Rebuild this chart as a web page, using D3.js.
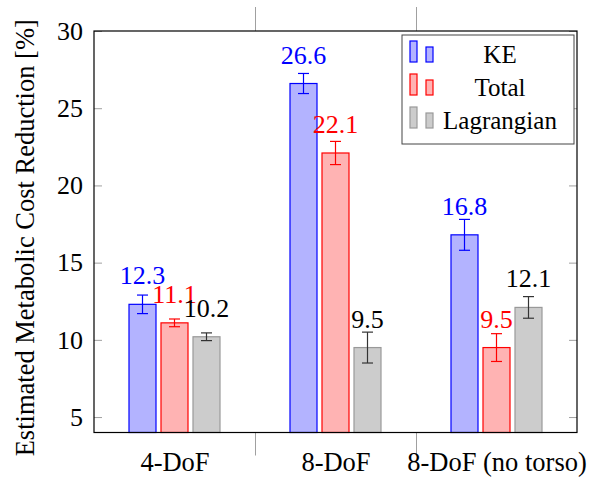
<!DOCTYPE html>
<html>
<head>
<meta charset="utf-8">
<script src="https://cdn.jsdelivr.net/npm/d3@7"></script>
<style>
  body { margin: 0; background: #fff; }
  svg { display: block; font-family: "Liberation Serif", "Times New Roman", serif; }
</style>
</head>
<body>
<div id="chart"></div>
<script>
// data
const groups = ["4-DoF", "8-DoF", "8-DoF (no torso)"];
const series = ["KE", "Total", "Lagrangian"];
const keValues = [12.3, 26.6, 16.8];
const keErrors = [0.6, 0.65, 1.0];
const totalValues = [11.1, 22.1, 9.5];
const totalErrors = [0.25, 0.75, 0.9];
const lagValues = [10.2, 9.5, 12.1];
const lagErrors = [0.25, 1.0, 0.7];
const yTicks = [5, 10, 15, 20, 25, 30];

const styles = [
  { fill: "#b3b3ff", stroke: "#0000ff", err: "#0000ff", label: "#0000ff" },
  { fill: "#ffb3b3", stroke: "#ff0000", err: "#ff0000", label: "#ff0000" },
  { fill: "#cccccc", stroke: "#999999", err: "#333333", label: "#000000" }
];

const values = [keValues, totalValues, lagValues];
const errors = [keErrors, totalErrors, lagErrors];

const width = 592, height = 479;
const plotL = 94, plotR = 577, plotT = 31, plotB = 432.5;
const font = "Liberation Serif";

const svg = d3.select("#chart").append("svg")
  .attr("width", width)
  .attr("height", height);

const x = d3.scaleLinear().domain([-0.5, 2.5]).range([plotL, plotR]);
const y = d3.scaleLinear().domain([4, 30]).range([plotB, plotT]);
const inner = d3.scaleBand().domain(series).range([-48, 48]);
const barW = 27;

// y axis (left), ticks pointing inward
const yAxis = svg.append("g")
  .attr("transform", "translate(" + plotL + ",0)")
  .call(d3.axisLeft(y).tickValues(yTicks).tickSizeInner(-8).tickSizeOuter(0).tickPadding(11));
yAxis.select(".domain").remove();
yAxis.selectAll("line").attr("stroke", "#a0a0a0");
yAxis.selectAll("text").attr("font-size", 26).attr("fill", "#000").attr("font-family", font);

const yAxisR = svg.append("g")
  .attr("transform", "translate(" + plotR + ",0)")
  .call(d3.axisRight(y).tickValues(yTicks).tickSizeInner(-8).tickSizeOuter(0).tickFormat(""));
yAxisR.select(".domain").remove();
yAxisR.selectAll("line").attr("stroke", "#a0a0a0");

// group separators (outside ticks)
const xSep = svg.append("g")
  .attr("transform", "translate(0," + plotB + ")")
  .call(d3.axisBottom(x).tickValues([0.5, 1.5]).tickSizeInner(23).tickSizeOuter(0).tickFormat(""));
xSep.select(".domain").remove();
xSep.selectAll("line").attr("stroke", "#a0a0a0");

const xSepTop = svg.append("g")
  .attr("transform", "translate(0," + plotT + ")")
  .call(d3.axisTop(x).tickValues([0.5, 1.5]).tickSizeInner(24).tickSizeOuter(0).tickFormat(""));
xSepTop.select(".domain").remove();
xSepTop.selectAll("line").attr("stroke", "#a0a0a0");

// category labels
const xLab = svg.append("g")
  .attr("transform", "translate(0," + plotB + ")")
  .call(d3.axisBottom(x).tickValues([0, 1, 2]).tickSize(0).tickPadding(20).tickFormat(i => groups[i]));
xLab.select(".domain").remove();
xLab.selectAll("text").attr("font-size", 26.5).attr("fill", "#000").attr("font-family", font);

// bars
series.forEach((s, si) => {
  const st = styles[si];
  const g = svg.append("g");
  const data = groups.map((grp, gi) => ({ gi, v: values[si][gi], e: errors[si][gi] }));
  const cx = d => x(d.gi) + inner(s) + inner.bandwidth() / 2;

  g.selectAll("rect").data(data).enter().append("rect")
    .attr("x", d => cx(d) - barW / 2)
    .attr("y", d => y(d.v))
    .attr("width", barW)
    .attr("height", d => y(4) - y(d.v))
    .attr("fill", st.fill)
    .attr("stroke", st.stroke)
    .attr("stroke-width", 1.2);

  const eb = g.selectAll(".err").data(data).enter().append("g").attr("class", "err")
    .attr("stroke", st.err).attr("stroke-width", 1.2);
  eb.append("line")
    .attr("x1", cx).attr("x2", cx)
    .attr("y1", d => y(d.v + d.e)).attr("y2", d => y(d.v - d.e));
  eb.append("line")
    .attr("x1", d => cx(d) - 5.5).attr("x2", d => cx(d) + 5.5)
    .attr("y1", d => y(d.v + d.e)).attr("y2", d => y(d.v + d.e));
  eb.append("line")
    .attr("x1", d => cx(d) - 5.5).attr("x2", d => cx(d) + 5.5)
    .attr("y1", d => y(d.v - d.e)).attr("y2", d => y(d.v - d.e));

  g.selectAll(".val").data(data).enter().append("text")
    .attr("class", "val")
    .attr("x", cx)
    .attr("y", d => y(d.v) - 20)
    .attr("text-anchor", "middle")
    .attr("font-size", 26)
    .attr("fill", st.label)
    .text(d => d.v.toFixed(1));
});

// frame
svg.append("rect")
  .attr("x", plotL).attr("y", plotT)
  .attr("width", plotR - plotL).attr("height", plotB - plotT)
  .attr("fill", "none").attr("stroke", "#000").attr("stroke-width", 1.2);

// legend
const leg = svg.append("g").attr("transform", "translate(402,35)");
leg.append("rect")
  .attr("width", 172).attr("height", 109)
  .attr("fill", "#fff").attr("stroke", "#444").attr("stroke-width", 1);
series.forEach((s, si) => {
  const st = styles[si];
  const row = leg.append("g").attr("transform", "translate(0," + (si * 33) + ")");
  row.append("rect").attr("x", 8).attr("y", 6).attr("width", 7).attr("height", 21)
    .attr("fill", st.fill).attr("stroke", st.stroke).attr("stroke-width", 1.2);
  row.append("rect").attr("x", 24).attr("y", 12).attr("width", 7).attr("height", 15)
    .attr("fill", st.fill).attr("stroke", st.stroke).attr("stroke-width", 1.2);
  row.append("text")
    .attr("x", 98).attr("y", 28)
    .attr("text-anchor", "middle")
    .attr("font-size", 25)
    .attr("fill", "#000")
    .text(s);
});

// y label
svg.append("text")
  .attr("transform", "translate(34," + ((plotT + plotB) / 2 + 6) + ") rotate(-90)")
  .attr("text-anchor", "middle")
  .attr("font-size", 26.5)
  .attr("fill", "#000")
  .text("Estimated Metabolic Cost Reduction [%]");
</script>
</body>
</html>
